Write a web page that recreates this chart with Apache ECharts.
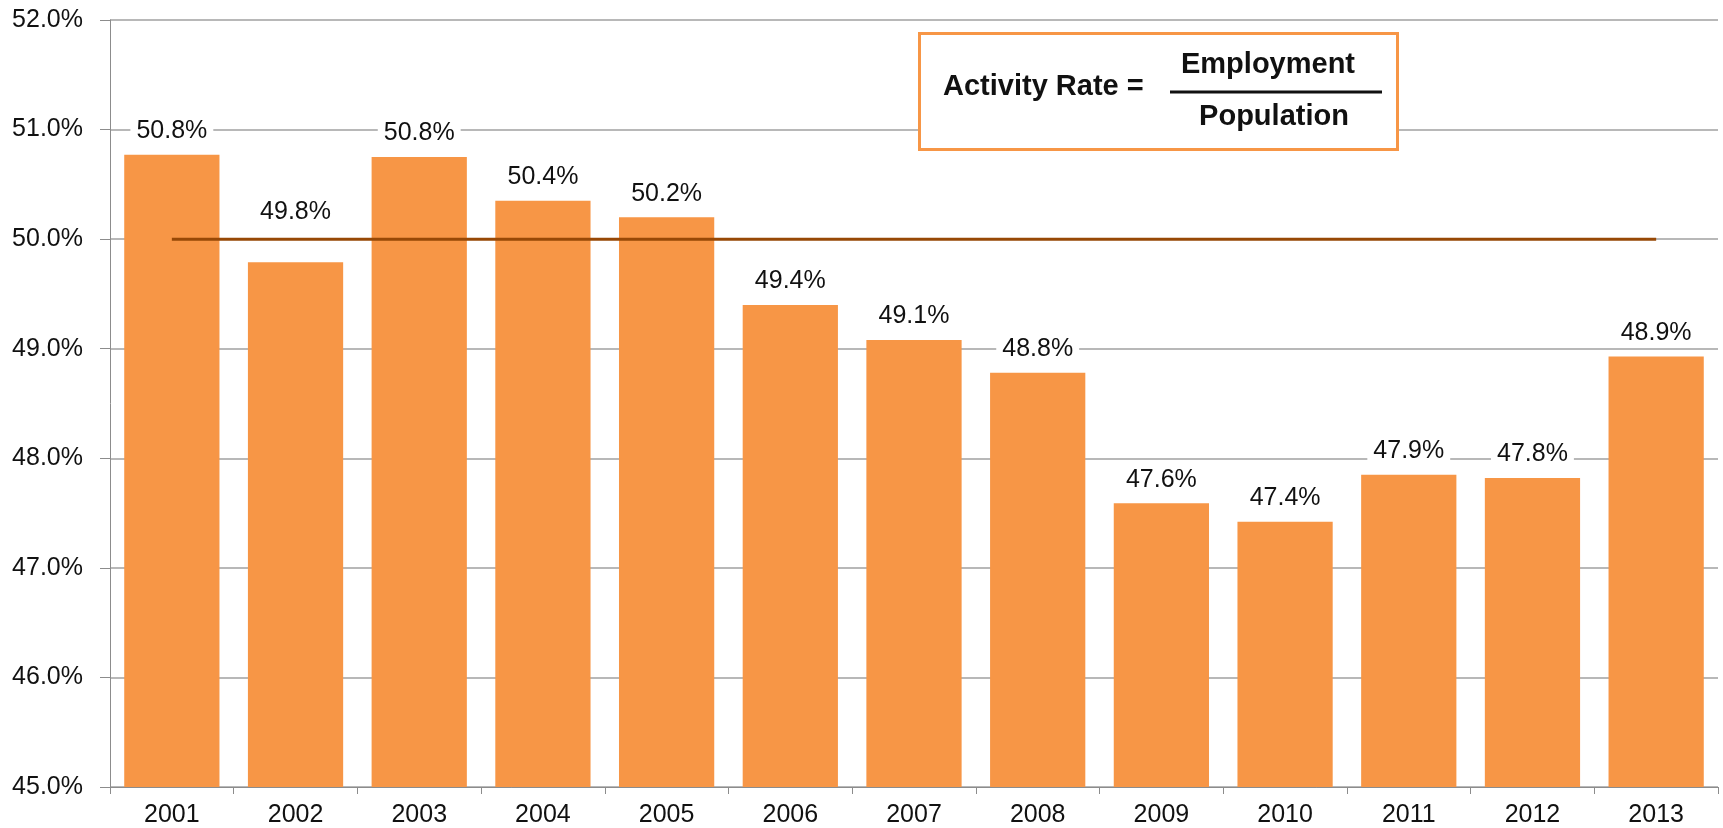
<!DOCTYPE html>
<html>
<head>
<meta charset="utf-8">
<script src="https://cdn.jsdelivr.net/npm/echarts@6/dist/echarts.min.js"></script>
<style>
  html, body { margin: 0; padding: 0; background: #fff; }
  #chart { width: 1723px; height: 828px; }
</style>
</head>
<body>
<div id="chart"></div>
<script>
const years = ['2001', '2002', '2003', '2004', '2005', '2006', '2007', '2008', '2009', '2010', '2011', '2012', '2013']
const activityRate = [50.77, 49.79, 50.75, 50.35, 50.2, 49.4, 49.08, 48.78, 47.59, 47.42, 47.85, 47.82, 48.93]
const benchmark = [50, 50, 50, 50, 50, 50, 50, 50, 50, 50, 50, 50, 50]

const font = '"Liberation Sans", Arial, sans-serif'

const chart = echarts.init(document.getElementById('chart'))

// 2002 label sits higher so it clears the 50% line
const barData = activityRate.map((v, i) => i === 1 ? { value: v, label: { distance: 36 } } : v)

const option = {
  animation: false,
  grid: {
    left: 110,
    right: 5,
    top: 20,
    bottom: 41
  },
  xAxis: {
    type: 'category',
    data: years,
    axisLine: { lineStyle: { color: '#8c8c8c', width: 1 } },
    axisTick: { show: true, length: 7, lineStyle: { color: '#8c8c8c' } },
    axisLabel: {
      color: '#111',
      fontSize: 25,
      fontFamily: font,
      margin: 16
    }
  },
  yAxis: {
    type: 'value',
    min: 45,
    max: 52,
    interval: 1,
    axisLine: { show: true, lineStyle: { color: '#8c8c8c', width: 1 } },
    axisTick: { show: true, length: 10, lineStyle: { color: '#8c8c8c' } },
    splitLine: { lineStyle: { color: '#a0a0a0', width: 1.5 } },
    axisLabel: {
      color: '#111',
      fontSize: 25,
      fontFamily: font,
      margin: 27,
      formatter: v => v.toFixed(1) + '%'
    }
  },
  series: [
    {
      name: 'Activity Rate',
      type: 'bar',
      data: barData,
      barCategoryGap: '23%',
      itemStyle: { color: '#F79646' },
      label: {
        show: true,
        position: 'top',
        distance: 9,
        color: '#111',
        fontSize: 25,
        fontFamily: font,
        backgroundColor: '#fff',
        padding: [2, 6],
        formatter: p => p.value.toFixed(1) + '%'
      },
      z: 2
    },
    {
      name: 'Benchmark',
      type: 'line',
      data: benchmark,
      symbol: 'none',
      lineStyle: { color: '#974806', width: 3 },
      z: 3
    }
  ],
  graphic: [
    {
      type: 'rect',
      left: 918,
      top: 32,
      shape: { width: 478, height: 116 },
      style: { fill: '#fff', stroke: '#F79646', lineWidth: 3 },
      z: 10
    },
    {
      type: 'text',
      x: 943,
      y: 87,
      style: {
        text: 'Activity Rate =',
        font: 'bold 29px ' + font,
        fill: '#111',
        align: 'left',
        verticalAlign: 'middle'
      },
      z: 11
    },
    {
      type: 'text',
      x: 1268,
      y: 65,
      style: {
        text: 'Employment',
        font: 'bold 29px ' + font,
        fill: '#111',
        align: 'center',
        verticalAlign: 'middle'
      },
      z: 11
    },
    {
      type: 'line',
      shape: { x1: 1170, y1: 92, x2: 1382, y2: 92 },
      style: { stroke: '#111', lineWidth: 3 },
      z: 11
    },
    {
      type: 'text',
      x: 1274,
      y: 117,
      style: {
        text: 'Population',
        font: 'bold 29px ' + font,
        fill: '#111',
        align: 'center',
        verticalAlign: 'middle'
      },
      z: 11
    }
  ]
}

chart.setOption(option)
</script>
</body>
</html>
